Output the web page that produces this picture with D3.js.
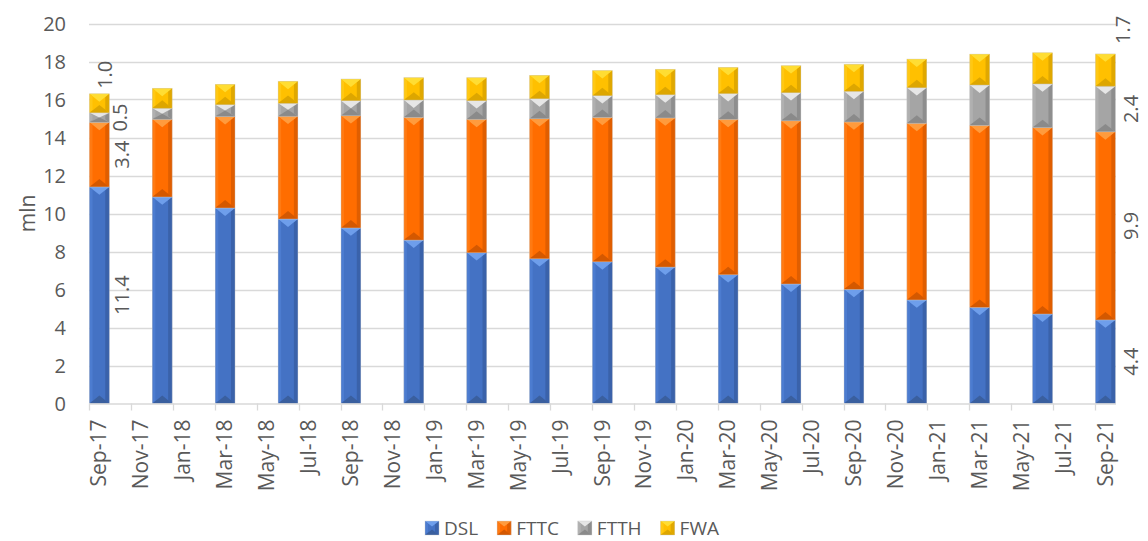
<!DOCTYPE html>
<html>
<head>
<meta charset="utf-8">
<script src="https://cdn.jsdelivr.net/npm/d3@7"></script>
<style>
  html, body { margin: 0; padding: 0; background: #ffffff; }
  svg { display: block; }
  text { font-family: "Open Sans", "Noto Sans", sans-serif; fill: #595959; }
</style>
</head>
<body>
<svg id="chart" width="1148" height="541"></svg>
<script>
// ---------- data ----------
const quarters = ["Sep-17","Dec-17","Mar-18","Jun-18","Sep-18","Dec-18","Mar-19","Jun-19","Sep-19",
                  "Dec-19","Mar-20","Jun-20","Sep-20","Dec-20","Mar-21","Jun-21","Sep-21"];
const seriesNames = ["DSL","FTTC","FTTH","FWA"];
const DSL  = [11.4,10.87,10.29,9.71,9.24,8.6,7.94,7.62,7.46,7.18,6.78,6.29,6.01,5.45,5.06,4.71,4.4];
const FTTC = [3.4,4.09,4.81,5.41,5.91,6.46,7.02,7.37,7.6,7.85,8.18,8.59,8.81,9.3,9.58,9.81,9.9];
const FTTH = [0.5,0.58,0.63,0.68,0.79,0.91,0.98,1.05,1.14,1.22,1.35,1.48,1.61,1.87,2.12,2.3,2.4];
const FWA  = [1.0,1.05,1.07,1.16,1.14,1.18,1.21,1.23,1.32,1.34,1.38,1.42,1.42,1.51,1.63,1.64,1.7];
const monthLabels = ["Sep-17","Nov-17","Jan-18","Mar-18","May-18","Jul-18","Sep-18","Nov-18","Jan-19",
                     "Mar-19","May-19","Jul-19","Sep-19","Nov-19","Jan-20","Mar-20","May-20","Jul-20",
                     "Sep-20","Nov-20","Jan-21","Mar-21","May-21","Jul-21","Sep-21"];
const yTicks = [0,2,4,6,8,10,12,14,16,18,20];
const totalMonths = 49; // Sep-17 .. Sep-21 inclusive

// ---------- styles ----------
const palette = {
  DSL:  {base:"#4472C4", top:"#6E9EEB", bottom:"#3A5F9E", left:"#4C7CD0", right:"#3A62AA"},
  FTTC: {base:"#FF6D00", top:"#FF9B3D", bottom:"#D45800", left:"#FF7A12", right:"#E05E00"},
  FTTH: {base:"#A5A5A5", top:"#E6E6E6", bottom:"#8A8A8A", left:"#B0B0B0", right:"#8E8E8E"},
  FWA:  {base:"#FFC000", top:"#FFDD33", bottom:"#DDA600", left:"#FFC814", right:"#E0A800"}
};

const svg = d3.select("#chart");
const plotLeft = 89, plotRight = 1116, plotTop = 23.5, plotBottom = 403.5;

const x = d3.scaleLinear().domain([0, totalMonths]).range([plotLeft, plotRight]);
const y = d3.scaleLinear().domain([0, 20]).range([plotBottom, plotTop]);

// gridlines
svg.append("g").selectAll("line").data(yTicks.filter(d => d > 0)).join("line")
  .attr("x1", plotLeft).attr("x2", plotRight)
  .attr("y1", d => Math.round(y(d)) + 0.5).attr("y2", d => Math.round(y(d)) + 0.5)
  .attr("stroke", "#D9D9D9").attr("stroke-width", 1.3);

// y axis labels
const yAxis = d3.axisLeft(y).tickValues(yTicks).tickSize(0).tickPadding(0);
const gy = svg.append("g").attr("transform", `translate(66,0)`).call(yAxis);
gy.select(".domain").remove();
gy.selectAll("text").style("font-size", "20px").attr("fill", "#595959")
  .attr("font-family", "Open Sans").attr("dy", "0.36em");

// y title
svg.append("text").attr("transform", `translate(28,${(plotTop + plotBottom) / 2}) rotate(-90)`)
  .attr("text-anchor", "middle").attr("dy", "0.35em").style("font-size", "21px").text("mln");

// stack
const rows = quarters.map((q, i) => ({q, i, DSL: DSL[i], FTTC: FTTC[i], FTTH: FTTH[i], FWA: FWA[i]}));
const stacked = d3.stack().keys(seriesNames)(rows);

const monthW = x(1) - x(0);
function barX(i) { return x(i * 3) + 0.5; }
const barW = monthW - 1.2;

function bevel(g, key, bx, by, w, h) {
  const c = palette[key];
  g.append("rect").attr("x", bx).attr("y", by).attr("width", w).attr("height", h).attr("fill", c.base);
  const b = Math.min(3, h / 2);
  const t = Math.min(w * 0.4, h / 2);
  g.append("polygon").attr("points", [[bx, by], [bx + b, by + b], [bx + b, by + h - b], [bx, by + h]].join(" ")).attr("fill", c.left);
  g.append("polygon").attr("points", [[bx + w, by], [bx + w - 4, by + b], [bx + w - 4, by + h - b], [bx + w, by + h]].join(" ")).attr("fill", c.right);
  g.append("polygon").attr("points", [[bx, by], [bx + w, by], [bx + w / 2, by + t]].join(" ")).attr("fill", c.top);
  g.append("polygon").attr("points", [[bx, by + h], [bx + w, by + h], [bx + w / 2, by + h - t]].join(" ")).attr("fill", c.bottom);
  g.append("rect").attr("x", bx).attr("y", by).attr("width", w).attr("height", h)
    .attr("fill", "none").attr("stroke", "rgba(200,200,200,0.6)").attr("stroke-width", 0.6);
}

const barsG = svg.append("g");
stacked.forEach(layer => {
  layer.forEach((d, i) => {
    const y0 = y(d[0]), y1 = y(d[1]);
    bevel(barsG, layer.key, barX(i), y1, barW, y0 - y1);
  });
});

// x axis line and ticks
svg.append("line").attr("x1", plotLeft).attr("x2", plotRight).attr("y1", plotBottom + 0.5).attr("y2", plotBottom + 0.5)
  .attr("stroke", "#D9D9D9").attr("stroke-width", 1.5);
const tickMonths = d3.range(0, totalMonths, 2);
svg.append("g").selectAll("line").data(tickMonths).join("line")
  .attr("x1", d => Math.round(x(d)) + 0.5).attr("x2", d => Math.round(x(d)) + 0.5)
  .attr("y1", plotBottom).attr("y2", plotBottom + 7)
  .attr("stroke", "#D9D9D9").attr("stroke-width", 1.3);

// x labels (rotated)
svg.append("g").selectAll("text").data(monthLabels).join("text")
  .attr("transform", (d, k) => `translate(${x(k * 2 + 0.5) + 7},${plotBottom + 16}) rotate(-90)`)
  .attr("text-anchor", "end").style("font-size", "21px").text(d => d);

// data labels for first and last bars
function addLabel(layerIdx, barIdx, dx, dyOverride) {
  const d = stacked[layerIdx][barIdx];
  const val = rows[barIdx][seriesNames[layerIdx]];
  const cy = dyOverride !== undefined ? y(d[1]) + dyOverride : (y(d[0]) + y(d[1])) / 2;
  const cx = barX(barIdx) + barW + dx;
  svg.append("text").attr("transform", `translate(${cx},${cy}) rotate(-90)`)
    .attr("text-anchor", "middle").attr("dy", "0.35em").style("font-size", "20px")
    .attr("fill", "#404040").text(d3.format(".1f")(val));
}
const first = 0, last = quarters.length - 1;
addLabel(0, first, 13);
addLabel(1, first, 13);
addLabel(2, first, 11);
addLabel(3, first, -4, -19);
addLabel(0, last, 16);
addLabel(1, last, 16);
addLabel(2, last, 16);
addLabel(3, last, 8, -24);

// legend
const legend = svg.append("g");
const items = [];
seriesNames.forEach(name => {
  const g = legend.append("g");
  bevel(g, name, 0, -7, 14, 14);
  const t = g.append("text").attr("x", 19).attr("y", 0).attr("dy", "0.35em").style("font-size", "19px").text(name);
  const w = 19 + t.node().getComputedTextLength();
  items.push({g, w});
});
let totalW = d3.sum(items, d => d.w) + 19 * (items.length - 1);
let startX = 572 - totalW / 2;
items.forEach(it => {
  it.g.attr("transform", `translate(${startX},528)`);
  startX += it.w + 19;
});
</script>
</body>
</html>
